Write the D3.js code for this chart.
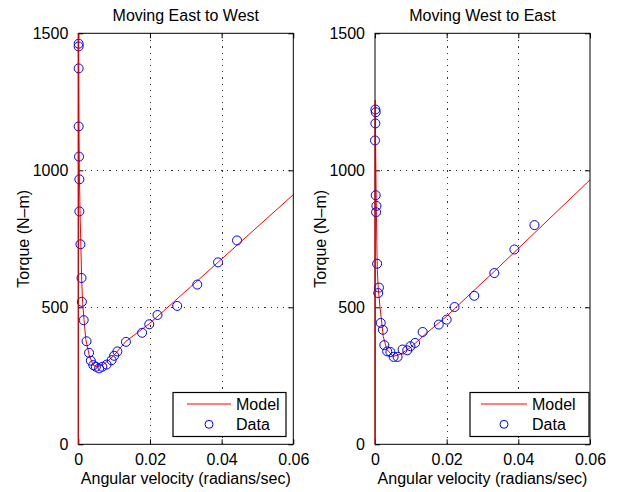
<!DOCTYPE html>
<html>
<head>
<meta charset="utf-8">
<script src="https://cdn.jsdelivr.net/npm/d3@7"></script>
<style>
  html, body { margin: 0; padding: 0; background: #fff; }
  svg text { font-family: "Liberation Sans", Arial, Helvetica, sans-serif; fill: #000; }
</style>
</head>
<body>
<svg id="chart" width="617" height="492"></svg>
<script>
// ---------- data ----------
const xTicks = [0, 0.02, 0.04, 0.06];
const xTickLabels = ["0", "0.02", "0.04", "0.06"];
const yTicks = [0, 500, 1000, 1500];
const yTickLabels = ["0", "500", "1000", "1500"];
const xLabel = "Angular velocity (radians/sec)";
const yLabel = "Torque (N\u2013m)";
const legendLabels = ["Model", "Data"];

const leftTitle = "Moving East to West";
const leftDataV = [0.0001, 0.0001, 0.0001, 0.0001, 0.0002, 0.0003, 0.0003, 0.0006, 0.0009, 0.001,
  0.0015, 0.0023, 0.003, 0.0035, 0.0042, 0.0049, 0.0058, 0.0067, 0.0079, 0.0093,
  0.010, 0.0109, 0.0133, 0.0178, 0.0198, 0.0221, 0.0276, 0.0332, 0.039, 0.0443];
const leftDataT = [1462, 1452, 1372, 1160, 1050, 967, 850, 730, 607, 520,
  453, 376, 334, 305, 289, 283, 277, 283, 291, 307,
  323, 339, 374, 407, 438, 472, 505, 583, 664, 744];
const leftModelV = [0, 0, 0.00005, 0.0001, 0.0002, 0.0003, 0.00047, 0.0007, 0.00095, 0.0012,
  0.0016, 0.0021, 0.0031, 0.0042, 0.0053, 0.007, 0.0098, 0.0133, 0.0198, 0.0313, 0.06];
const leftModelT = [0, 1700, 1600, 1470, 1160, 990, 856, 734, 600, 517,
  455, 382, 322, 288, 283, 291, 322, 376, 440, 574, 911];

const rightTitle = "Moving West to East";
const rightDataV = [0.0001, 0.0002, 0.0001, 0.0000, 0.0002, 0.0004, 0.0003, 0.0006, 0.0011, 0.0009,
  0.0016, 0.0022, 0.0026, 0.0034, 0.0043, 0.0052, 0.0063, 0.0077, 0.0090, 0.0099,
  0.0112, 0.0133, 0.0178, 0.0200, 0.0222, 0.0277, 0.0333, 0.0389, 0.0445];
const rightDataT = [1222, 1212, 1171, 1109, 909, 870, 847, 659, 572, 552,
  443, 418, 362, 339, 337, 319, 319, 346, 343, 358,
  370, 410, 437, 455, 501, 542, 625, 711, 800];
const rightModelV = [0, 0, 0.00005, 0.0001, 0.0002, 0.0003, 0.0004, 0.0005, 0.00065, 0.0009,
  0.0014, 0.0023, 0.0033, 0.0051, 0.007, 0.0098, 0.0145, 0.02, 0.0222, 0.0333, 0.06];
const rightModelT = [0, 1256, 1240, 1180, 1060, 940, 840, 740, 637, 570,
  500, 394, 346, 321, 328, 352, 407, 467, 495, 631, 965];

// ---------- layout ----------
const svg = d3.select("#chart");
const panels = [
  { title: leftTitle, dv: leftDataV, dt: leftDataT, mv: leftModelV, mt: leftModelT,
    x0: 78.3, x1: 293.3, legend: { x0: 173, x1: 286, lineX0: 187, lineX1: 231, textX: 236 } },
  { title: rightTitle, dv: rightDataV, dt: rightDataT, mv: rightModelV, mt: rightModelT,
    x0: 375, x1: 590, legend: { x0: 470, x1: 589, lineX0: 481, lineX1: 527, textX: 532 } }
];
const yTop = 33.3, yBot = 444.3;

panels.forEach((p, i) => {
  const x = d3.scaleLinear().domain([0, 0.06]).range([p.x0, p.x1]);
  const y = d3.scaleLinear().domain([0, 1500]).range([yBot, yTop]);
  const g = svg.append("g");

  // clip
  const clipId = "clip" + i;
  svg.append("clipPath").attr("id", clipId).append("rect")
    .attr("x", p.x0).attr("y", yTop).attr("width", p.x1 - p.x0).attr("height", yBot - yTop);

  // grid
  const grid = g.append("g").attr("stroke", "#333").attr("stroke-width", 1)
    .attr("stroke-dasharray", "1.2,5").attr("shape-rendering", "crispEdges");
  xTicks.slice(1, -1).forEach(t => {
    grid.append("line").attr("x1", Math.round(x(t)) + 0.5).attr("x2", Math.round(x(t)) + 0.5)
      .attr("y1", yBot).attr("y2", yTop);
  });
  yTicks.slice(1, -1).forEach(t => {
    grid.append("line").attr("y1", Math.round(y(t)) + 0.5).attr("y2", Math.round(y(t)) + 0.5)
      .attr("x1", p.x0).attr("x2", p.x1);
  });

  // axes with inward ticks
  const axB = d3.axisBottom(x).tickValues(xTicks).tickSize(-5).tickPadding(9)
    .tickFormat((d, k) => xTickLabels[k]);
  const axT = d3.axisTop(x).tickValues(xTicks).tickSize(-5).tickFormat("");
  const axL = d3.axisLeft(y).tickValues(yTicks).tickSize(-5).tickPadding(10)
    .tickFormat((d, k) => yTickLabels[k]);
  const axR = d3.axisRight(y).tickValues(yTicks).tickSize(-5).tickFormat("");
  [[axB, `translate(0,${yBot})`], [axT, `translate(0,${yTop})`],
   [axL, `translate(${p.x0},0)`], [axR, `translate(${p.x1},0)`]].forEach(([ax, tr]) => {
    const a = g.append("g").attr("transform", tr).call(ax);
    a.select(".domain").remove();
    a.selectAll(".tick line").attr("stroke", "#000");
    a.selectAll("text").attr("font-size", 16)
      .attr("font-family", '"Liberation Sans", Arial, sans-serif');
  });

  // model line
  const line = d3.line().x((d, k) => x(p.mv[k])).y((d, k) => y(p.mt[k]));
  g.append("path").datum(p.mv).attr("d", line).attr("fill", "none")
    .attr("stroke", "#ff0000").attr("stroke-width", 1).attr("clip-path", `url(#${clipId})`);

  // data circles
  g.append("g").selectAll("circle").data(p.dv).join("circle")
    .attr("cx", (d) => x(d)).attr("cy", (d, k) => y(p.dt[k])).attr("r", 4.5)
    .attr("fill", "none").attr("stroke", "#0000ff").attr("stroke-width", 1);

  // frame
  g.append("rect").attr("x", p.x0).attr("y", yTop).attr("width", p.x1 - p.x0)
    .attr("height", yBot - yTop).attr("fill", "none").attr("stroke", "#000").attr("stroke-width", 1);
  // red model overlay on y axis where model runs along v=0
  g.append("line").attr("x1", x(0)).attr("x2", x(0)).attr("y1", y(0))
    .attr("y2", Math.max(yTop, y(d3.max([p.mt[1]]))))
    .attr("stroke", "#ff0000").attr("stroke-width", 1);

  // title and labels
  const cx = (p.x0 + p.x1) / 2;
  g.append("text").attr("x", cx).attr("y", 21).attr("text-anchor", "middle")
    .attr("font-size", 16).text(p.title);
  g.append("text").attr("x", cx).attr("y", 484).attr("text-anchor", "middle")
    .attr("font-size", 16).text(xLabel);
  g.append("text").attr("transform", `translate(${p.x0 - 49},${(yTop + yBot) / 2}) rotate(-90)`)
    .attr("text-anchor", "middle").attr("font-size", 16).text(yLabel);

  // legend
  const L = p.legend;
  const lg = g.append("g");
  lg.append("rect").attr("x", L.x0).attr("y", 392.5).attr("width", L.x1 - L.x0).attr("height", 44)
    .attr("fill", "#fff").attr("stroke", "#000").attr("stroke-width", 1.2);
  lg.append("line").attr("x1", L.lineX0).attr("x2", L.lineX1).attr("y1", 404).attr("y2", 404)
    .attr("stroke", "#ff0000").attr("stroke-width", 1);
  lg.append("circle").attr("cx", (L.lineX0 + L.lineX1) / 2).attr("cy", 424.3).attr("r", 4)
    .attr("fill", "none").attr("stroke", "#0000ff").attr("stroke-width", 1);
  lg.append("text").attr("x", L.textX).attr("y", 409.5).attr("font-size", 16).text(legendLabels[0]);
  lg.append("text").attr("x", L.textX).attr("y", 430).attr("font-size", 16).text(legendLabels[1]);
});
</script>
</body>
</html>
